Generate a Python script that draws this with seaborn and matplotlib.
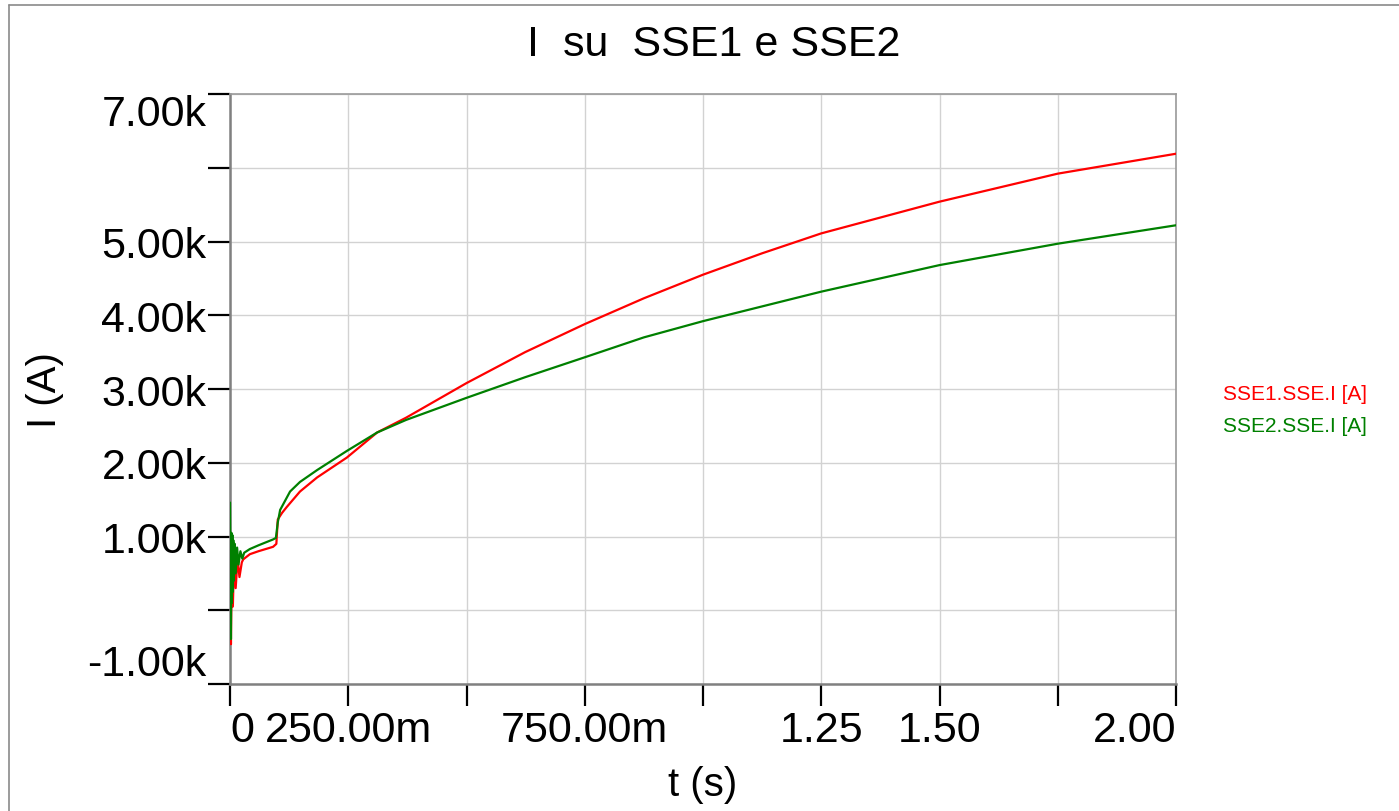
"""
I su SSE1 e SSE2 - corrente nelle due sottostazioni (transitorio 0-2 s)
"""

import matplotlib
matplotlib.use("Agg")
import matplotlib.pyplot as plt
from matplotlib.lines import Line2D
import pandas as pd
import seaborn as sns

# ── dati ───────────────────────────────────────────────────────────────────────
t_sse1 = [0.0, 0.002, 0.004, 0.006, 0.009, 0.012, 0.016, 0.020, 0.025, 0.028,
          0.042, 0.060, 0.091, 0.098, 0.101, 0.110, 0.120, 0.148, 0.184, 0.247,
          0.311, 0.372, 0.500, 0.624, 0.750, 0.875, 1.000, 1.125, 1.250, 1.500,
          1.750, 2.000]
i_sse1 = [700, -460, 900, 50, 800, 300, 700, 450, 650, 690,
          760, 800, 860, 900, 1230, 1320, 1400, 1610, 1800, 2070,
          2410, 2610, 3080, 3500, 3880, 4230, 4550, 4840, 5110, 5540,
          5920, 6190]

t_sse2 = [0.0, 0.002, 0.003, 0.004, 0.005, 0.006, 0.007, 0.008, 0.010, 0.012,
          0.015, 0.018, 0.022, 0.026, 0.030, 0.042, 0.060, 0.091, 0.097, 0.101,
          0.106, 0.127, 0.148, 0.184, 0.247, 0.311, 0.372, 0.500, 0.624, 0.750,
          0.875, 1.000, 1.125, 1.250, 1.500, 1.750, 2.000]
i_sse2 = [1460, -390, 1050, 100, 1020, 250, 950, 400, 900, 500,
          850, 620, 800, 700, 780, 830, 880, 960, 980, 1190,
          1360, 1610, 1740, 1900, 2160, 2410, 2580, 2880, 3160, 3430,
          3700, 3920, 4120, 4320, 4680, 4970, 5220]

series_names = ["SSE1.SSE.I [A]", "SSE2.SSE.I [A]"]
series_colors = ["#ff0000", "#008000"]

x_ticks = [0.0, 0.25, 0.5, 0.75, 1.0, 1.25, 1.5, 1.75, 2.0]
x_labels = ["0", "250.00m", "", "750.00m", "", "1.25", "1.50", "", "2.00"]
y_ticks = [-1000, 0, 1000, 2000, 3000, 4000, 5000, 6000, 7000]
y_labels = ["-1.00k", "", "1.00k", "2.00k", "3.00k", "4.00k", "5.00k", "", "7.00k"]

df = pd.concat([
    pd.DataFrame({"t": t_sse1, "I": i_sse1, "serie": series_names[0]}),
    pd.DataFrame({"t": t_sse2, "I": i_sse2, "serie": series_names[1]}),
], ignore_index=True)

# ── stile ──────────────────────────────────────────────────────────────────────
sns.set_theme(style="whitegrid")
plt.rcParams["font.family"] = ["Liberation Sans", "DejaVu Sans"]

fig = plt.figure(figsize=(13.99, 8.12), dpi=100)
ax = fig.add_axes([230 / 1399, 1 - 685 / 812, 946 / 1399, 590 / 812])

sns.lineplot(data=df, x="t", y="I", hue="serie", palette=series_colors,
             estimator=None, sort=False, linewidth=1.6, legend=False, ax=ax)
for ln in ax.get_lines():
    ln.set_zorder(4)  # le curve passano sopra l'asse sinistro

ax.set_xlim(0, 2.0)
ax.set_ylim(-1000, 7000)
ax.set_xticks(x_ticks)
ax.set_xticklabels(x_labels, fontsize=31)
ax.set_yticks(y_ticks)
ax.set_yticklabels(y_labels, fontsize=31)

# etichette estreme spostate dentro l'asse come nell'originale
xl = ax.get_xticklabels()
xl[0].set_ha("left")
xl[-1].set_ha("right")
yl = ax.get_yticklabels()
yl[0].set_va("bottom")
yl[-1].set_va("top")

ax.tick_params(axis="both", direction="out", length=16, width=1.6,
               color="black", labelcolor="black", bottom=True, left=True)
ax.tick_params(axis="y", pad=1)
ax.tick_params(axis="x", pad=3)

ax.grid(True, color="#d2d2d2", linewidth=1.0)
for side in ["left", "bottom"]:
    ax.spines[side].set_color("#808080")
    ax.spines[side].set_linewidth(1.8)
for side in ["top", "right"]:
    ax.spines[side].set_color("#9a9a9a")
    ax.spines[side].set_linewidth(1.2)

ax.set_xlabel("t (s)", fontsize=29, color="black")
ax.set_ylabel("I (A)", fontsize=29, color="black")
ax.xaxis.set_label_coords(0.5, -(785 - 685) / 590)
ax.xaxis.label.set_va("center")
ax.yaxis.set_label_coords(-(230 - 45) / 946, 0.5)
ax.yaxis.label.set_va("center")

fig.text(714 / 1399, 1 - 45 / 812, "I  su  SSE1 e SSE2", fontsize=31,
         ha="center", va="center", color="black")

handles = [Line2D([], [], color=c, linewidth=0) for c in series_colors]
fig.legend(handles, series_names, loc="upper left",
           bbox_to_anchor=(1223 / 1399, 1 - 385 / 812), frameon=False,
           handlelength=0, handletextpad=0, borderpad=0, borderaxespad=0,
           labelspacing=0.62, fontsize=15, labelcolor=series_colors)

# cornice della finestra
fig.add_artist(Line2D([9 / 1399, 9 / 1399], [0, 1 - 6 / 812],
                      transform=fig.transFigure, color="#8a8a8a", linewidth=1.2))
fig.add_artist(Line2D([9 / 1399, 1], [1 - 6 / 812, 1 - 6 / 812],
                      transform=fig.transFigure, color="#8a8a8a", linewidth=1.2))

fig.savefig("out.png", dpi=100, facecolor="white")
